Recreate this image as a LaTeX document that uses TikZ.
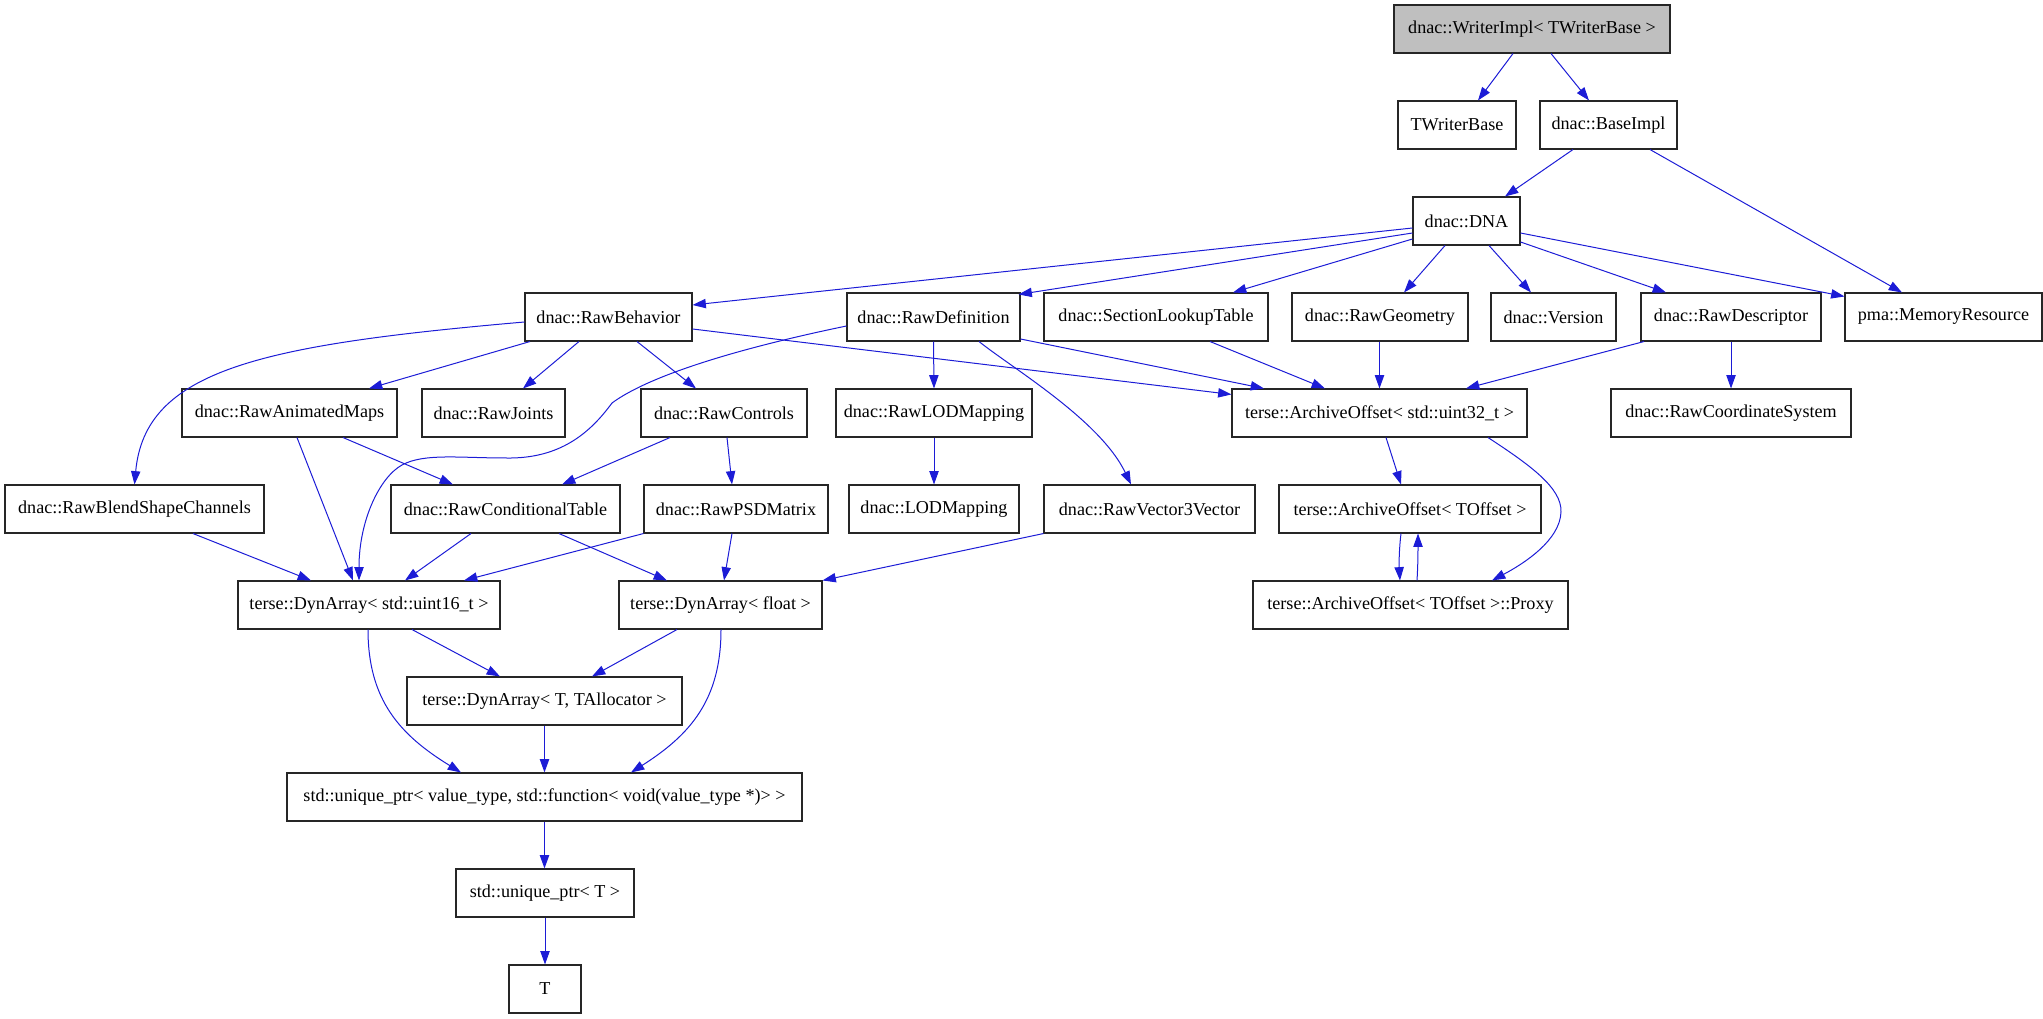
\documentclass[tikz,border=0pt]{standalone}
\usepackage{fontspec}
\setmainfont{Liberation Serif}
\usetikzlibrary{arrows.meta}
\definecolor{edgeblue}{RGB}{28,28,214}
\definecolor{rootgray}{RGB}{191,191,191}
\begin{document}
\begin{tikzpicture}[x=0.75pt,y=-0.75pt,
  box/.style={draw=black!85, line width=0.8pt, fill=white, minimum height=36pt, inner sep=0pt,
    font=\fontsize{13.6}{16}\selectfont},
  bw/.style={minimum width=#1*0.75pt},
  edge/.style={draw=edgeblue, line width=0.75pt, -{Triangle[length=10pt,width=7pt]}}]
\useasboundingbox (0,0) rectangle (2043,1019);
% nodes
\node[box,bw=276,fill=rootgray] (writer) at (1532,29) {dnac::WriterImpl< TWriterBase >};
\node[box,bw=118] (twb) at (1457,125) {TWriterBase};
\node[box,bw=137] (base) at (1608.5,125) {dnac::BaseImpl};
\node[box,bw=107] (dna) at (1466.5,221) {dnac::DNA};
\node[box,bw=167] (rb) at (608.5,317) {dnac::RawBehavior};
\node[box,bw=173] (rd) at (933.5,317) {dnac::RawDefinition};
\node[box,bw=224] (slt) at (1156,317) {dnac::SectionLookupTable};
\node[box,bw=176] (rg) at (1380,317) {dnac::RawGeometry};
\node[box,bw=125] (ver) at (1553.5,317) {dnac::Version};
\node[box,bw=180] (rdesc) at (1731,317) {dnac::RawDescriptor};
\node[box,bw=197] (mem) at (1943.5,317) {pma::MemoryResource};
\node[box,bw=215] (am) at (289.5,413) {dnac::RawAnimatedMaps};
\node[box,bw=143] (jo) at (493.5,413) {dnac::RawJoints};
\node[box,bw=166] (ctl) at (724,413) {dnac::RawControls};
\node[box,bw=196] (rlod) at (934,413) {dnac::RawLODMapping};
\node[box,bw=295] (ao32) at (1379.5,413) {terse::ArchiveOffset< std::uint32\_t >};
\node[box,bw=240] (cs) at (1731,413) {dnac::RawCoordinateSystem};
\node[box,bw=259] (bsc) at (134.5,509) {dnac::RawBlendShapeChannels};
\node[box,bw=229] (ct) at (505.5,509) {dnac::RawConditionalTable};
\node[box,bw=184] (psd) at (736,509) {dnac::RawPSDMatrix};
\node[box,bw=170] (lod) at (934,509) {dnac::LODMapping};
\node[box,bw=211] (v3) at (1149.5,509) {dnac::RawVector3Vector};
\node[box,bw=262] (aot) at (1410,509) {terse::ArchiveOffset< TOffset >};
\node[box,bw=262] (d16) at (369,605) {terse::DynArray< std::uint16\_t >};
\node[box,bw=203] (df) at (720.5,605) {terse::DynArray< float >};
\node[box,bw=315] (px) at (1410.5,605) {terse::ArchiveOffset< TOffset >::Proxy};
\node[box,bw=275] (dT) at (544.5,701) {terse::DynArray< T, TAllocator >};
\node[box,bw=515] (up) at (544.5,797) {std::unique\_ptr< value\_type, std::function< void(value\_type *)> >};
\node[box,bw=178] (upT) at (545,893) {std::unique\_ptr< T >};
\node[box,bw=72] (T) at (545,989) {T};
% edges
\draw[edge] ([shift={(-19,0)}]writer.south) -- ([shift={(21,0)}]twb.north);
\draw[edge] ([shift={(19,0)}]writer.south) -- ([shift={(-19.5,0)}]base.north);
\draw[edge] ([shift={(-35.5,0)}]base.south) -- ([shift={(38.5,0)}]dna.north);
\draw[edge] ([shift={(41.5,0)}]base.south) -- ([shift={(-41.5,0)}]mem.north);
\draw[edge] ([shift={(0,7)}]dna.west) -- ([shift={(0,-12)}]rb.east);
\draw[edge] ([shift={(0,12)}]dna.west) -- ([shift={(-2,2)}]rd.north east);
\draw[edge] ([shift={(0,18)}]dna.west) -- ([shift={(77,0)}]slt.north);
\draw[edge] ([shift={(-21.5,0)}]dna.south) -- ([shift={(24,0)}]rg.north);
\draw[edge] ([shift={(22.5,0)}]dna.south) -- ([shift={(-22.5,0)}]ver.north);
\draw[edge] ([shift={(0,21)}]dna.east) -- ([shift={(-65,0)}]rdesc.north);
\draw[edge] ([shift={(0,12)}]dna.east) -- ([shift={(0,4)}]mem.north west);
% RawBehavior
\draw[edge] ([shift={(0,5)}]rb.west) .. controls (260,345) and (145,370) .. (bsc.north);
\draw[edge] ([shift={(-78.5,0)}]rb.south) -- ([shift={(79.5,0)}]am.north);
\draw[edge] ([shift={(-29.5,0)}]rb.south) -- ([shift={(29.5,0)}]jo.north);
\draw[edge] ([shift={(28.5,0)}]rb.south) -- ([shift={(-28,0)}]ctl.north);
\draw[edge] ([shift={(0,12)}]rb.east) -- ([shift={(0,6)}]ao32.north west);
% RawDefinition
\draw[edge] ([shift={(0,9)}]rd.west) .. controls (740,348) and (650,375) .. (612,403)
  .. controls (590,433) and (560,459) .. (506,458)
  .. controls (460,458) and (424,453) .. (402,465)
  .. controls (380,477) and (359,520) .. ([shift={(-10,0)}]d16.north);
\draw[edge] (rd.south) -- (rlod.north);
\draw[edge] ([shift={(45.5,0)}]rd.south) .. controls (1012,368) and (1100,420) .. ([shift={(-18.5,0)}]v3.north);
\draw[edge] ([shift={(0,22)}]rd.east) -- ([shift={(-115.5,0)}]ao32.north);
% others to ArchiveOffset<uint32>
\draw[edge] ([shift={(54,0)}]slt.south) -- ([shift={(-54.5,0)}]ao32.north);
\draw[edge] ([shift={(-0.5,0)}]rg.south) -- (ao32.north);
\draw[edge] ([shift={(-87,0)}]rdesc.south) -- ([shift={(86.5,0)}]ao32.north);
\draw[edge] (rdesc.south) -- (cs.north);
% row 5
\draw[edge] ([shift={(7.5,0)}]am.south) -- ([shift={(-16,0)}]d16.north);
\draw[edge] ([shift={(53.5,0)}]am.south) -- ([shift={(-52.5,0)}]ct.north);
\draw[edge] ([shift={(-54,0)}]ctl.south) -- ([shift={(56.5,0)}]ct.north);
\draw[edge] ([shift={(3,0)}]ctl.south) -- ([shift={(-4,0)}]psd.north);
\draw[edge] (rlod.south) -- (lod.north);
\draw[edge] ([shift={(6.5,0)}]ao32.south) -- ([shift={(-9,0)}]aot.north);
\draw[edge] ([shift={(108.5,0)}]ao32.south) .. controls (1530,465) and (1562,488) .. (1561,512)
  .. controls (1560,540) and (1525,563) .. ([shift={(81.5,0)}]px.north);
\draw[edge] ([shift={(-9,0)}]aot.south) .. controls (1399,550) and (1399,565) .. ([shift={(-10.5,0)}]px.north);
\draw[edge] ([shift={(6.5,0)}]px.north) .. controls (1418,565) and (1418,550) .. ([shift={(8,0)}]aot.south);
% row 6
\draw[edge] ([shift={(58.5,0)}]bsc.south) -- ([shift={(-58,0)}]d16.north);
\draw[edge] ([shift={(-34.5,0)}]ct.south) -- ([shift={(36,0)}]d16.north);
\draw[edge] ([shift={(53.5,0)}]ct.south) -- ([shift={(-53.5,0)}]df.north);
\draw[edge] (psd.south west) -- ([shift={(95,0)}]d16.north);
\draw[edge] ([shift={(-4,0)}]psd.south) -- ([shift={(3.5,0)}]df.north);
\draw[edge] (v3.south west) -- (df.north east);
% lower part
\draw[edge] ([shift={(43,0)}]d16.south) -- ([shift={(-44.5,0)}]dT.north);
\draw[edge] ([shift={(-43.5,0)}]df.south) -- ([shift={(47.5,0)}]dT.north);
\draw[edge] ([shift={(-1,0)}]d16.south) .. controls (368,700) and (400,735) .. ([shift={(-83.5,0)}]up.north);
\draw[edge] ([shift={(0.5,0)}]df.south) .. controls (721,700) and (690,735) .. ([shift={(86.5,0)}]up.north);
\draw[edge] (dT.south) -- (up.north);
\draw[edge] (up.south) -- ([shift={(-0.5,0)}]upT.north);
\draw[edge] (upT.south) -- (T.north);
\end{tikzpicture}
\end{document}
